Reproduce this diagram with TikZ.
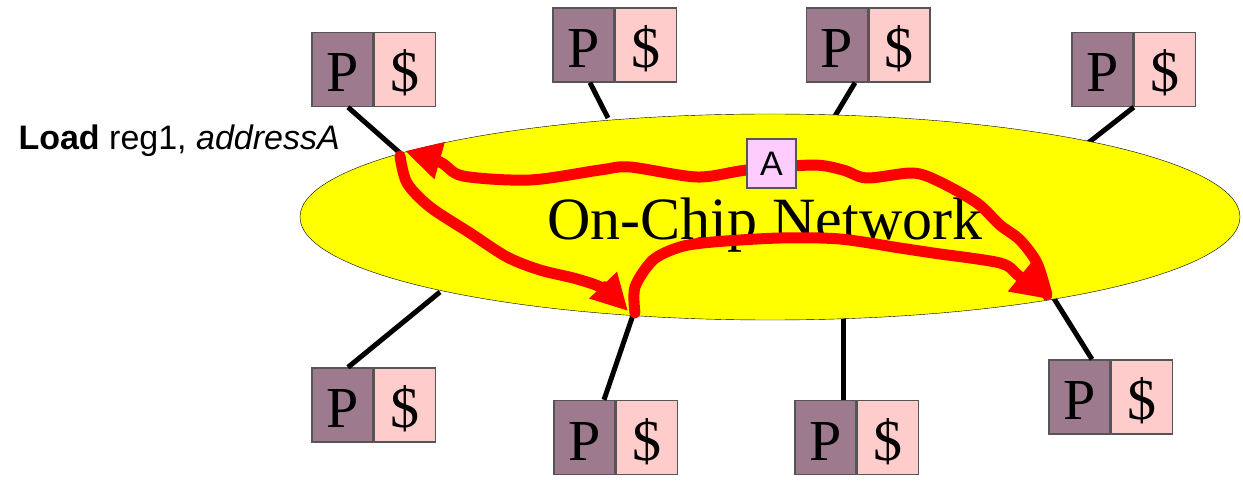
\documentclass[tikz,border=0pt]{standalone}
\usepackage{fontspec}
\setmainfont{Liberation Serif}
\newfontfamily\arialfont{Liberation Sans}
\usepackage{tikz}
\usetikzlibrary{positioning,shapes.geometric,arrows.meta}
\definecolor{ProcPurple}{HTML}{9E7A8E}
\definecolor{CachePink}{HTML}{FFCCCC}
\definecolor{NetYellow}{HTML}{FFFF00}
\definecolor{BoxGray}{HTML}{555555}
\definecolor{TagLilac}{HTML}{FFCCFF}
\tikzset{
  pbox/.style={draw=BoxGray, line width=1.4pt, fill=ProcPurple, minimum width=61pt,
    minimum height=74pt, inner sep=0pt, text height=50pt, text depth=5pt,
    font=\fontsize{58}{60}\selectfont},
  cbox/.style={pbox, fill=CachePink},
  link/.style={line width=5pt},
  flow/.style={draw=red, line width=11pt, line cap=round, line join=round,
    -{Triangle[length=36pt,width=36pt]}},
  tagbox/.style={draw=BoxGray, line width=1.4pt, fill=TagLilac, minimum size=49pt,
    inner sep=0pt, font=\arialfont\fontsize{34}{36}\selectfont}
}
\begin{document}
\begin{tikzpicture}[x=1pt,y=-1pt]
  \useasboundingbox (0,0) rectangle (1243,481);

  % Processor + cache tiles
  \node[pbox] (p1) at (342.5,69.5) {P};
  \node[cbox, right=0pt of p1] (c1) {\$};
  \node[pbox] (p2) at (583.5,45) {P};
  \node[cbox, right=0pt of p2] (c2) {\$};
  \node[pbox] (p3) at (837,45) {P};
  \node[cbox, right=0pt of p3] (c3) {\$};
  \node[pbox] (p4) at (1102.5,69.5) {P};
  \node[cbox, right=0pt of p4] (c4) {\$};
  \node[pbox] (p5) at (342.5,405) {P};
  \node[cbox, right=0pt of p5] (c5) {\$};
  \node[pbox] (p6) at (584.5,437.5) {P};
  \node[cbox, right=0pt of p6] (c6) {\$};
  \node[pbox] (p7) at (825.5,437.5) {P};
  \node[cbox, right=0pt of p7] (c7) {\$};
  \node[pbox] (p8) at (1079.5,397) {P};
  \node[cbox, right=0pt of p8] (c8) {\$};

  % Attachment points on the network
  \coordinate (t1) at (400,153);
  \coordinate (t2) at (608,118);
  \coordinate (t3) at (835,116);
  \coordinate (t4) at (1088,143);
  \coordinate (t5) at (440,292);
  \coordinate (t6) at (633,315);
  \coordinate (t7) at (843,318);
  \coordinate (t8) at (1053,297);

  \draw[link] ([xshift=5.5pt]p1.south) -- (t1);
  \draw[link] ([xshift=6.5pt]p2.south) -- (t2);
  \draw[link] ([xshift=18pt]p3.south) -- (t3);
  \draw[link] (p4.south east) -- (t4);
  \draw[link] ([xshift=5.5pt]p5.north) -- (t5);
  \draw[link] ([xshift=19.5pt]p6.north) -- (t6);
  \draw[link] ([xshift=17.5pt]p7.north) -- (t7);
  \draw[link] ([xshift=12.5pt]p8.north) -- (t8);

  % The network itself
  \node[ellipse, draw, thin, fill=NetYellow, minimum width=940pt, minimum height=206pt,
    inner sep=0pt] (net) at (770,217) {};
  \node[anchor=base, font=\fontsize{60}{62}\selectfont] (netlabel) at (765,240) {On-Chip Network};

  \node[anchor=base west, font=\arialfont\fontsize{34}{36}\selectfont] (instr) at (15,150)
    {\textbf{Load} reg1, \textit{addressA}};

  % Miss: requester -> home -> owner -> requester
  \draw[flow] plot[smooth] coordinates {(400,156) (407,183) (430,207) (470,233)
    (507,257) (540,270) (577,279) (604,289) (628,311)};
  \draw[flow] plot[smooth] coordinates {(635,313) (635,287) (653,260) (680,247)
    (713,242) (780,238) (840,239) (900,248) (933,253) (1000,263) (1019,276) (1048,299)};
  \draw[flow] plot[smooth] coordinates {(1047,295) (1037,263) (1020,240) (1000,225)
    (977,203) (940,182) (913,173) (867,178) (843,170) (813,165) (747,170) (697,177)
    (630,167) (600,170) (530,180) (463,176) (440,162) (405,151)};

  \node[tagbox] (tagA) at (771.5,163.5) {A};
\end{tikzpicture}
\end{document}
